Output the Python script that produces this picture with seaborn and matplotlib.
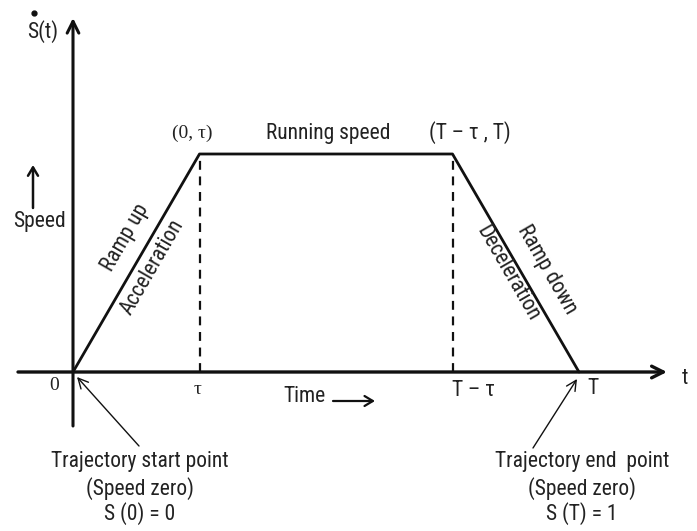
import numpy as np
import pandas as pd
import matplotlib
matplotlib.use("Agg")
import matplotlib.pyplot as plt
from matplotlib import font_manager
import seaborn as sns

# trapezoidal speed profile (time in arbitrary units, speed normalised)
T = 10.0
tau = 2.5
t_points = [0, tau, T - tau, T]
speed_points = [0, 1, 1, 0]

profile = pd.DataFrame({"t": t_points, "speed": speed_points})

sns.set_theme(style="white")

# narrow sans if we have one
installed = {f.name for f in font_manager.fontManager.ttflist}
narrow = [n for n in ["Liberation Sans Narrow", "DejaVu Sans Condensed", "Roboto Condensed"] if n in installed]
plt.rcParams["font.family"] = narrow + ["Liberation Sans", "DejaVu Sans"]
fs = 15.5 if narrow else 13.5

fig = plt.figure(figsize=(6.97, 5.31), dpi=100)
ax = fig.add_axes([0, 0, 1, 1])

# pixel scale: 50.6 px per time unit, 218 px per speed unit, origin at (73, 372)
ax.set_xlim(-73 / 50.6, 624 / 50.6)
ax.set_ylim(-159 / 218, 372 / 218)
ax.axis("off")

sns.lineplot(data=profile, x="t", y="speed", color="#111111", lw=2.0, ax=ax, sort=False, estimator=None)

# dashed drops from the plateau corners
for tx in [tau, T - tau]:
    drop = pd.DataFrame({"t": [tx, tx], "speed": [0, 1]})
    sns.lineplot(data=drop, x="t", y="speed", color="#111111", lw=1.6, ax=ax,
                 estimator=None, sort=False, dashes=False, linestyle=(0, (4, 3)))

ink = "#222222"
fx = lambda x: x / 697
fy = lambda y: 1 - y / 531
tf = fig.transFigure

# axes with arrows
ax.annotate("", xy=(fx(667), fy(372)), xytext=(fx(18), fy(372)), xycoords=tf, textcoords=tf,
            arrowprops=dict(arrowstyle="->,head_length=0.7,head_width=0.35", lw=2.4, color="#111111",
                            shrinkA=0, shrinkB=0))
ax.annotate("", xy=(fx(73), fy(18)), xytext=(fx(73), fy(426)), xycoords=tf, textcoords=tf,
            arrowprops=dict(arrowstyle="->,head_length=0.7,head_width=0.35", lw=2.2, color="#111111",
                            shrinkA=0, shrinkB=0))

fam_serif = ["Liberation Serif", "DejaVu Serif"]

fig.text(fx(43), fy(32), "S(t)", fontsize=fs, color=ink, ha="center", va="center")
ax.plot([fx(34)], [fy(13)], "o", ms=3.5, color="#111111", transform=tf)
fig.text(fx(685), fy(378), "t", fontsize=fs, color=ink, ha="center", va="center")

# speed label with arrow
ax.annotate("", xy=(fx(33), fy(165)), xytext=(fx(33), fy(208)), xycoords=tf, textcoords=tf,
            arrowprops=dict(arrowstyle="->,head_length=0.5,head_width=0.3", lw=1.8, color="#111111",
                            shrinkA=0, shrinkB=0))
fig.text(fx(39), fy(222), "Speed", fontsize=fs, color=ink, ha="center", va="center")

# time label with arrow
fig.text(fx(304), fy(397), "Time", fontsize=fs, color=ink, ha="center", va="center")
ax.annotate("", xy=(fx(375), fy(401)), xytext=(fx(333), fy(401)), xycoords=tf, textcoords=tf,
            arrowprops=dict(arrowstyle="->,head_length=0.5,head_width=0.3", lw=1.6, color="#111111",
                            shrinkA=0, shrinkB=0))

# tick-like labels
fig.text(fx(54), fy(386), "0", fontsize=14, color=ink, ha="center", va="center", family=fam_serif)
fig.text(fx(198), fy(389), "\u03c4", fontsize=14, color=ink, ha="center", va="center", family=fam_serif)
fig.text(fx(473), fy(391), "T \u2013 \u03c4", fontsize=fs, color=ink, ha="center", va="center")
fig.text(fx(593), fy(389), "T", fontsize=fs, color=ink, ha="center", va="center")

# plateau labels
fig.text(fx(192), fy(133), "(0, \u03c4)", fontsize=14, color=ink, ha="center", va="center", family=fam_serif)
fig.text(fx(328), fy(133), "Running speed", fontsize=fs, color=ink, ha="center", va="center")
fig.text(fx(470), fy(133), "(T \u2013 \u03c4 , T)", fontsize=fs, color=ink, ha="center", va="center")

# slope labels
fig.text(fx(125), fy(238), "Ramp up", fontsize=fs, color=ink, ha="center", va="center", rotation=60,
         rotation_mode="anchor")
fig.text(fx(152), fy(267), "Acceleration", fontsize=fs, color=ink, ha="center", va="center", rotation=60,
         rotation_mode="anchor")
fig.text(fx(547), fy(270), "Ramp down", fontsize=fs, color=ink, ha="center", va="center", rotation=-60,
         rotation_mode="anchor")
fig.text(fx(508), fy(273), "Deceleration", fontsize=fs, color=ink, ha="center", va="center", rotation=-60,
         rotation_mode="anchor")

# start / end point callouts
ax.annotate("", xy=(fx(77), fy(377)), xytext=(fx(139), fy(446)), xycoords=tf, textcoords=tf,
            arrowprops=dict(arrowstyle="->,head_length=0.6,head_width=0.3", lw=1.0, color="#111111",
                            shrinkA=0, shrinkB=0))
ax.annotate("", xy=(fx(577), fy(379)), xytext=(fx(533), fy(448)), xycoords=tf, textcoords=tf,
            arrowprops=dict(arrowstyle="->,head_length=0.6,head_width=0.3", lw=1.0, color="#111111",
                            shrinkA=0, shrinkB=0))

for cx, lines in [(140, ["Trajectory start point", "(Speed zero)", "S (0) = 0"]),
                  (582, ["Trajectory end  point", "(Speed zero)", "S (T) = 1"])]:
    for ly, s in zip([462, 489, 514], lines):
        fig.text(fx(cx), fy(ly), s, fontsize=fs, color=ink, ha="center", va="center")

fig.savefig("out.png", dpi=100)
